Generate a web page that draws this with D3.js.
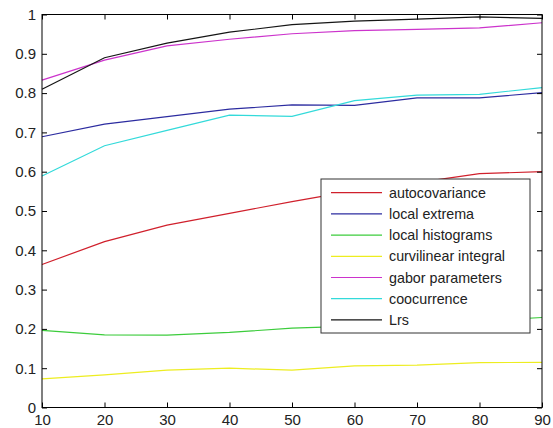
<!DOCTYPE html>
<html>
<head>
<meta charset="utf-8">
<script src="https://cdn.jsdelivr.net/npm/d3@7"></script>
<style>
  body { margin: 0; background: #fff; }
  svg { display: block; font-family: "Liberation Sans", Arial, sans-serif; }
</style>
</head>
<body>
<div id="chart"></div>
<script>
// data
const xValues = [10, 20, 30, 40, 50, 60, 70, 80, 90];
const autocovariance = [0.364, 0.422, 0.464, 0.494, 0.524, 0.552, 0.572, 0.595, 0.600];
const localExtrema = [0.689, 0.721, 0.740, 0.759, 0.770, 0.769, 0.788, 0.788, 0.801];
const localHistograms = [0.196, 0.185, 0.184, 0.191, 0.202, 0.207, 0.213, 0.220, 0.229];
const curvilinearIntegral = [0.073, 0.083, 0.095, 0.100, 0.095, 0.106, 0.108, 0.114, 0.115];
const gaborParameters = [0.833, 0.884, 0.920, 0.937, 0.951, 0.959, 0.962, 0.966, 0.979];
const coocurrence = [0.589, 0.666, 0.705, 0.744, 0.741, 0.781, 0.795, 0.797, 0.814];
const lrs = [0.810, 0.890, 0.927, 0.955, 0.974, 0.983, 0.988, 0.994, 0.990];

const seriesNames = ['autocovariance', 'local extrema', 'local histograms', 'curvilinear integral', 'gabor parameters', 'coocurrence', 'Lrs'];
const seriesValues = [autocovariance, localExtrema, localHistograms, curvilinearIntegral, gaborParameters, coocurrence, lrs];
const seriesColors = ['#d0202c', '#2c2ca0', '#3ccc3c', '#eded20', '#cc33cc', '#33dada', '#151515'];

const xTicks = [10, 20, 30, 40, 50, 60, 70, 80, 90];
const yTicks = [0, 0.1, 0.2, 0.3, 0.4, 0.5, 0.6, 0.7, 0.8, 0.9, 1];
const yTickLabels = ['0', '0.1', '0.2', '0.3', '0.4', '0.5', '0.6', '0.7', '0.8', '0.9', '1'];

const width = 553, height = 428, margin = { top: 14.5, right: 11, bottom: 20.5, left: 42 };
const chartWidth = width - margin.left - margin.right;
const chartHeight = height - margin.top - margin.bottom;

const svg = d3.select('#chart').append('svg').attr('width', width).attr('height', height);

const x = d3.scaleLinear().domain([10, 90]).range([0, chartWidth]);
const y = d3.scaleLinear().domain([0, 1]).range([chartHeight, 0]);

const g = svg.append('g').attr('transform', `translate(${margin.left},${margin.top})`);

// lines
const line = d3.line().x((d, i) => x(xValues[i])).y(d => y(d));

seriesValues.forEach((vals, k) => {
  g.append('path')
    .datum(vals)
    .attr('fill', 'none')
    .attr('stroke', seriesColors[k])
    .attr('stroke-width', 1.2)
    .attr('d', line);
});

// axes, ticks pointing inward
const styleAxis = sel => {
  sel.selectAll('path.domain').remove();
  sel.selectAll('line').attr('stroke', '#000');
  sel.selectAll('text').attr('font-size', 15).attr('fill', '#222');
};

g.append('g')
  .attr('transform', `translate(0,${chartHeight})`)
  .call(d3.axisBottom(x).tickValues(xTicks).tickSizeInner(-5).tickSizeOuter(0).tickPadding(7))
  .call(styleAxis);

g.append('g')
  .call(d3.axisLeft(y).tickValues(yTicks).tickFormat((d, i) => yTickLabels[i]).tickSizeInner(-5).tickSizeOuter(0).tickPadding(6))
  .call(styleAxis);

g.append('g')
  .call(d3.axisTop(x).tickValues(xTicks).tickFormat('').tickSizeInner(-5).tickSizeOuter(0))
  .call(styleAxis);

g.append('g')
  .attr('transform', `translate(${chartWidth},0)`)
  .call(d3.axisRight(y).tickValues(yTicks).tickFormat('').tickSizeInner(-5).tickSizeOuter(0))
  .call(styleAxis);

// plot box
g.append('rect')
  .attr('width', chartWidth)
  .attr('height', chartHeight)
  .attr('fill', 'none')
  .attr('stroke', '#000')
  .attr('stroke-width', 1);

// legend
const legend = svg.append('g').attr('transform', 'translate(321,179)');
legend.append('rect')
  .attr('width', 209)
  .attr('height', 154)
  .attr('fill', '#fff')
  .attr('stroke', '#333')
  .attr('stroke-width', 1);

const rows = legend.selectAll('g.row')
  .data(seriesNames)
  .enter().append('g')
  .classed('row', true)
  .attr('transform', (d, i) => `translate(0,${13.7 + i * 21.2})`);

rows.append('line')
  .attr('x1', 10).attr('x2', 61)
  .attr('stroke', (d, i) => seriesColors[i])
  .attr('stroke-width', 1.2);

rows.append('text')
  .text(d => d)
  .attr('x', 68)
  .attr('dy', '0.35em')
  .attr('font-size', 14.3)
  .attr('fill', '#222');
</script>
</body>
</html>
